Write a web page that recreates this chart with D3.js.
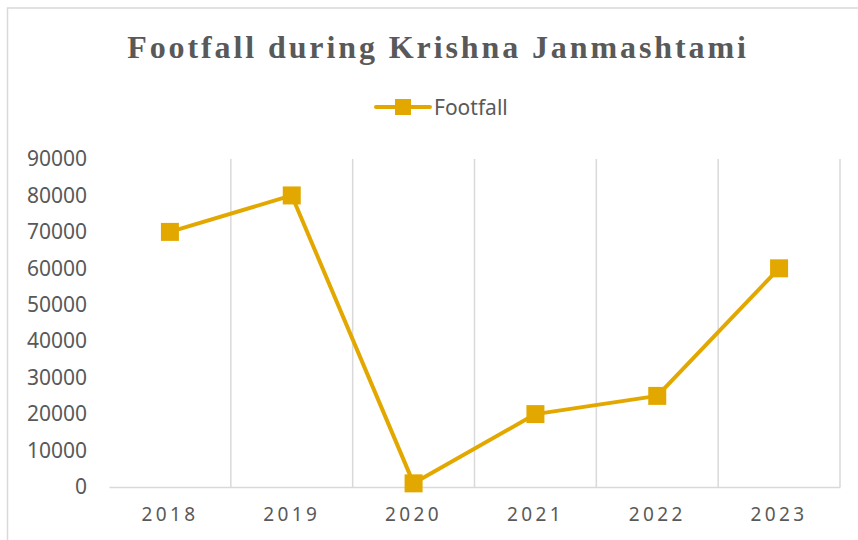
<!DOCTYPE html>
<html>
<head>
<meta charset="utf-8">
<script src="https://cdn.jsdelivr.net/npm/d3@7"></script>
<style>
  body { margin: 0; background: #fff; }
  svg { display: block; }
</style>
</head>
<body>
<svg id="chart"></svg>
<script>
// chart data
const years = ["2018", "2019", "2020", "2021", "2022", "2023"];
const footfall = [70000, 80000, 1000, 20000, 25000, 60000];
const yTicks = [0, 10000, 20000, 30000, 40000, 50000, 60000, 70000, 80000, 90000];
const seriesName = "Footfall";

const W = 858, H = 540;
const margin = {top: 159, right: 18, bottom: 53, left: 109};
const width = W - margin.left - margin.right,
    height = H - margin.top - margin.bottom;

const gold = "#E3A800";

const svg = d3.select("#chart")
    .attr("width", W)
    .attr("height", H);

// outer frame of the chart area
svg.append("rect")
    .attr("x", 7.5).attr("y", 8)
    .attr("width", W + 10).attr("height", H + 10)
    .attr("fill", "none")
    .attr("stroke", "#d9d9d9")
    .attr("stroke-width", 1.5);

// title
svg.append("text")
    .attr("x", 438).attr("y", 58)
    .attr("text-anchor", "middle")
    .style("font-family", "'Liberation Serif', 'Times New Roman', serif")
    .style("font-weight", "bold")
    .style("font-size", "32px")
    .style("letter-spacing", "2.9px")
    .attr("fill", "#595959")
    .text("Footfall during Krishna Janmashtami");

// legend
const lg = svg.append("g").attr("transform", "translate(376,107)");
lg.append("line")
    .attr("x1", 0).attr("x2", 54)
    .attr("stroke", gold).attr("stroke-width", 4).attr("stroke-linecap", "round");
lg.append("rect")
    .attr("x", 19).attr("y", -8).attr("width", 16).attr("height", 16)
    .attr("fill", gold);
lg.append("text")
    .attr("x", 58).attr("y", 8)
    .style("font-family", "'Noto Sans', 'Open Sans', sans-serif")
    .style("font-size", "21px")
    .attr("fill", "#595959")
    .text(seriesName);

const g = svg.append("g")
    .attr("transform", `translate(${margin.left},${margin.top})`);

// scales
const x = d3.scaleBand()
    .domain(years)
    .range([0, width]);

const y = d3.scaleLinear()
    .domain([0, 90000])
    .range([height, 0]);

// vertical category gridlines
g.append("g")
  .selectAll("line")
  .data(years)
  .join("line")
    .attr("x1", d => x(d) + x.bandwidth())
    .attr("x2", d => x(d) + x.bandwidth())
    .attr("y1", 0)
    .attr("y2", height)
    .attr("stroke", "#d9d9d9")
    .attr("stroke-width", 1.5);

// x axis
const xAxis = g.append("g")
    .attr("transform", `translate(0,${height})`)
    .call(d3.axisBottom(x).tickSize(0).tickPadding(17));
xAxis.select(".domain").attr("stroke", "#d9d9d9").attr("stroke-width", 1.5);
xAxis.selectAll("text")
    .style("font-family", "'Noto Sans', 'Open Sans', sans-serif")
    .style("font-size", "19px")
    .style("letter-spacing", "3.4px")
    .attr("dy", "0.9em")
    .attr("fill", "#595959");

// y axis
const yAxis = g.append("g")
    .call(d3.axisLeft(y).tickValues(yTicks).tickSize(0).tickPadding(22).tickFormat(d3.format("d")));
yAxis.select(".domain").remove();
yAxis.selectAll("text")
    .style("font-family", "'Noto Sans', 'Open Sans', sans-serif")
    .style("font-size", "21px")
    .attr("fill", "#595959");

// line
const line = d3.line()
    .x((d, i) => x(years[i]) + x.bandwidth() / 2)
    .y(d => y(d));

g.append("path")
    .datum(footfall)
    .attr("fill", "none")
    .attr("stroke", gold)
    .attr("stroke-width", 4)
    .attr("stroke-linejoin", "round")
    .attr("d", line);

// markers
g.append("g")
  .selectAll("rect")
  .data(footfall)
  .join("rect")
    .attr("x", (d, i) => x(years[i]) + x.bandwidth() / 2 - 9)
    .attr("y", d => y(d) - 9)
    .attr("width", 18)
    .attr("height", 18)
    .attr("fill", gold);
</script>
</body>
</html>
